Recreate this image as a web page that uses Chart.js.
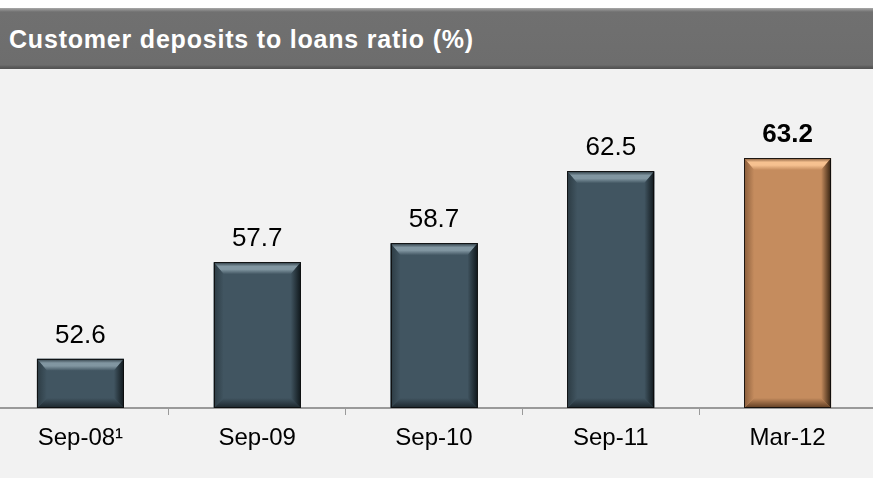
<!DOCTYPE html>
<html>
<head>
<meta charset="utf-8">
<script src="https://cdn.jsdelivr.net/npm/chart.js@4"></script>
<style>
  html, body { margin:0; padding:0; width:873px; height:478px; overflow:hidden; background:#f2f2f2; font-family:"Liberation Sans", Arial, sans-serif; }
  #top { position:absolute; left:0; top:0; width:873px; height:8px; background:#ffffff; }
  #title { position:absolute; left:0; top:8px; width:873px; height:61px; box-sizing:border-box;
    background:linear-gradient(to bottom, #a9a9a9 0px, #8a8a8a 2px, #707070 4px, #6d6d6d 57px, #5a5a5a 59px, #525252 61px);
    color:#ffffff; font-weight:bold; font-size:25px; letter-spacing:0.8px; line-height:62px; padding-left:9px; white-space:nowrap; }
  #wrap { position:absolute; left:-8px; top:0; width:884px; height:478px; }
</style>
</head>
<body>
<div id="top"></div>
<div id="wrap"><canvas id="c" width="884" height="478"></canvas></div>
<div id="title">Customer deposits to loans ratio (%)</div>
<script>
const categories = ["Sep-08\u00B9", "Sep-09", "Sep-10", "Sep-11", "Mar-12"];
const values = [52.6, 57.7, 58.7, 62.5, 63.2];
const valueLabels = ["52.6", "57.7", "58.7", "62.5", "63.2"];
const boldLabel = [false, false, false, false, true];
const yMin = 50;
const yMax = 67;

const palette = {
  slate: { base:"#415561", light:"#8196a1", edge:"#2a3840", left:"#2c3b43", right:"#10181c", bottom:"#1c262c" },
  copper: { base:"#c58c5e", light:"#f6c190", edge:"#7a5234", left:"#8a5d3b", right:"#33200f", bottom:"#5e3c22" }
};
const barStyle = values.map((v, i) => i === values.length - 1 ? palette.copper : palette.slate);

const bevelPlugin = {
  id: "bevel",
  afterDatasetsDraw(chart) {
    const ctx = chart.ctx;
    const meta = chart.getDatasetMeta(0);
    meta.data.forEach((bar, i) => {
      const p = bar.getProps(["x", "y", "base", "width"], true);
      const L = p.x - p.width / 2, R = p.x + p.width / 2, T = p.y;
      const B = Math.min(p.base, chart.chartArea.bottom);
      const c = barStyle[i];
      const d = 12, db = 10, ds = 10;
      ctx.save();
      let g = ctx.createLinearGradient(0, T, 0, T + d);
      g.addColorStop(0, c.edge);
      g.addColorStop(0.35, c.light);
      g.addColorStop(0.6, c.light);
      g.addColorStop(1, c.base);
      ctx.fillStyle = g;
      ctx.beginPath();
      ctx.moveTo(L, T); ctx.lineTo(R, T); ctx.lineTo(R - ds, T + d); ctx.lineTo(L + ds, T + d); ctx.closePath();
      ctx.fill();
      g = ctx.createLinearGradient(0, B - db, 0, B);
      g.addColorStop(0, c.base);
      g.addColorStop(1, c.bottom);
      ctx.fillStyle = g;
      ctx.beginPath();
      ctx.moveTo(L, B); ctx.lineTo(R, B); ctx.lineTo(R - ds, B - db); ctx.lineTo(L + ds, B - db); ctx.closePath();
      ctx.fill();
      g = ctx.createLinearGradient(L, 0, L + ds, 0);
      g.addColorStop(0, c.left);
      g.addColorStop(1, c.base);
      ctx.fillStyle = g;
      ctx.beginPath();
      ctx.moveTo(L, T); ctx.lineTo(L + ds, T + d); ctx.lineTo(L + ds, B - db); ctx.lineTo(L, B); ctx.closePath();
      ctx.fill();
      g = ctx.createLinearGradient(R - ds, 0, R, 0);
      g.addColorStop(0, c.base);
      g.addColorStop(1, c.right);
      ctx.fillStyle = g;
      ctx.beginPath();
      ctx.moveTo(R, T); ctx.lineTo(R - ds, T + d); ctx.lineTo(R - ds, B - db); ctx.lineTo(R, B); ctx.closePath();
      ctx.fill();
      ctx.strokeStyle = "rgba(10,10,10,0.85)";
      ctx.lineWidth = 1;
      ctx.strokeRect(Math.round(L) + 0.5, Math.round(T) + 0.5, Math.round(R - L) - 1, Math.round(B - T) - 1);
      ctx.fillStyle = "#000000";
      ctx.textAlign = "center";
      ctx.textBaseline = "alphabetic";
      ctx.font = (boldLabel[i] ? "bold " : "") + "26px 'Liberation Sans', Arial, sans-serif";
      ctx.fillText(valueLabels[i], p.x, T - 16);
      ctx.restore();
    });
  }
};

new Chart(document.getElementById("c"), {
  type: "bar",
  data: {
    labels: categories,
    datasets: [{
      data: values,
      base: yMin,
      backgroundColor: barStyle.map(s => s.base),
      borderWidth: 0,
      categoryPercentage: 1.0,
      barPercentage: 0.492
    }]
  },
  options: {
    responsive: false,
    animation: false,
    events: [],
    layout: { padding: { top: 86, left: 0, right: 0, bottom: 0 } },
    plugins: { legend: { display: false }, tooltip: { enabled: false }, title: { display: false } },
    scales: {
      y: { display: false, min: yMin, max: yMax },
      x: {
        offset: true,
        afterFit: (s) => { s.height = 70; },
        border: { display: true, color: "#9a9a9a", width: 2 },
        grid: { offset: true, drawOnChartArea: false, drawTicks: true, tickLength: 7, color: "#9a9a9a", lineWidth: 1 },
        ticks: { color: "#000000", padding: 9, font: { size: 24, family: "'Liberation Sans', Arial, sans-serif" }, maxRotation: 0 }
      }
    }
  },
  plugins: [bevelPlugin]
});
</script>
</body>
</html>
